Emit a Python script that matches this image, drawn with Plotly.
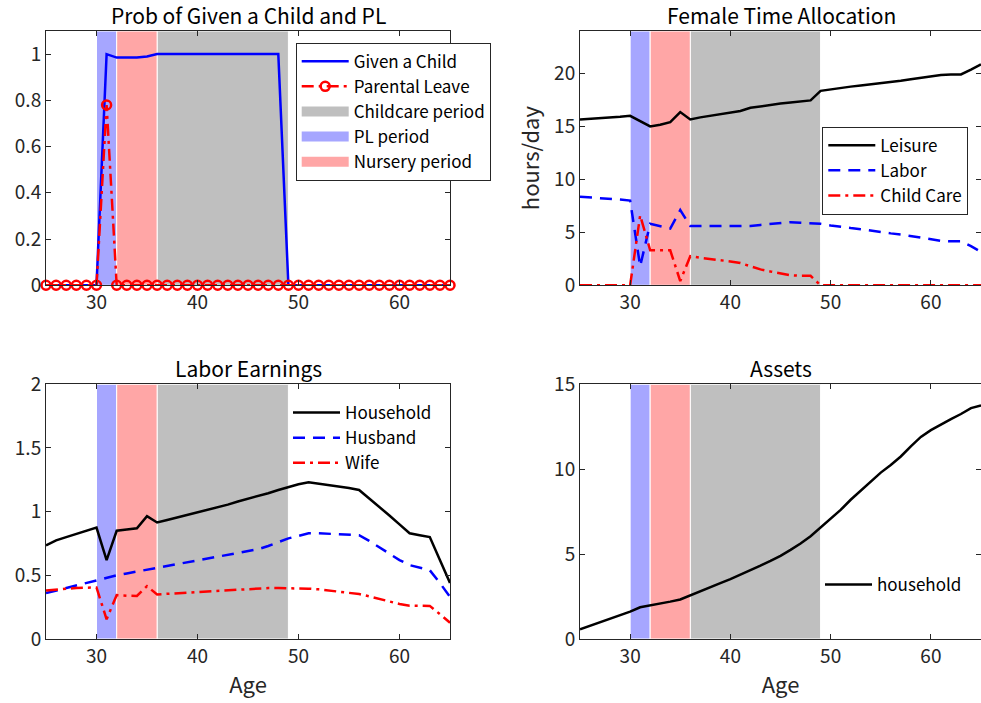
import plotly.graph_objects as go

ages = list(range(25, 66))

# Panel 1: probabilities
given_child = [0, 0, 0, 0, 0, 0,
               1.0, 0.985, 0.985, 0.985, 0.99,
               1.0, 1.0, 1.0, 1.0, 1.0, 1.0, 1.0, 1.0, 1.0, 1.0, 1.0, 1.0, 1.0,
               0, 0, 0, 0, 0, 0, 0, 0, 0, 0, 0, 0, 0, 0, 0, 0, 0]
parental_leave = [0, 0, 0, 0, 0, 0,
                  0.78,
                  0, 0, 0, 0, 0, 0, 0, 0, 0, 0, 0, 0, 0, 0, 0, 0, 0,
                  0, 0, 0, 0, 0, 0, 0, 0, 0, 0, 0, 0, 0, 0, 0, 0, 0]

# Panel 2: female time allocation (hours/day)
leisure = [15.65, 15.7, 15.75, 15.8, 15.9, 16.0, 15.5, 15.0, 15.15, 15.4,
           16.35, 15.65, 15.85, 16.0, 16.15, 16.3, 16.45, 16.75, 16.9, 17.05,
           17.15, 17.25, 17.35, 17.45, 18.35, 18.5, 18.6, 18.75, 18.85, 18.95,
           19.05, 19.15, 19.3, 19.45, 19.6, 19.75, 19.85, 19.9, 19.9, 20.35, 20.85]
labor = [8.35, 8.3, 8.25, 8.2, 8.1, 8.0, 1.8, 5.8, 5.55, 5.35,
         7.1, 5.6, 5.6, 5.6, 5.6, 5.55, 5.55, 5.6, 5.7, 5.8,
         5.9, 5.95, 5.9, 5.85, 5.8, 5.65, 5.5, 5.4, 5.3, 5.15,
         5.05, 4.9, 4.8, 4.65, 4.5, 4.35, 4.2, 4.15, 4.15, 3.7, 3.15]
child_care = [0, 0, 0, 0, 0, 0, 6.6, 3.3, 3.3, 3.3,
              0.4, 2.75, 2.6, 2.5, 2.4, 2.25, 2.1, 1.8, 1.5, 1.3,
              1.1, 0.95, 0.9, 0.9, 0, 0, 0, 0, 0, 0,
              0, 0, 0, 0, 0, 0, 0, 0, 0, 0, 0]

# Panel 3: labor earnings
household_earn = [0.735, 0.775, 0.80, 0.825, 0.85, 0.875, 0.62, 0.85, 0.86, 0.87,
                  0.965, 0.915, 0.935, 0.955, 0.975, 0.995, 1.01, 1.03, 1.055, 1.08,
                  1.10, 1.12, 1.145, 1.17, 1.195, 1.215, 1.23, 1.22, 1.205, 1.195,
                  1.185, 1.17, 1.105, 1.04, 0.97, 0.9, 0.83, 0.815, 0.8, 0.62, 0.44]
husband_earn = [0.36, 0.38, 0.40, 0.42, 0.44, 0.465, 0.485, 0.5, 0.515, 0.53,
                0.545, 0.56, 0.575, 0.59, 0.60, 0.615, 0.63, 0.645, 0.66, 0.675,
                0.69, 0.705, 0.73, 0.76, 0.79, 0.81, 0.83, 0.83, 0.825, 0.82,
                0.82, 0.815, 0.77, 0.72, 0.67, 0.62, 0.58, 0.56, 0.54, 0.44, 0.33]
wife_earn = [0.38, 0.39, 0.395, 0.40, 0.40, 0.405, 0.155, 0.345, 0.34, 0.338,
             0.415, 0.35, 0.355, 0.36, 0.365, 0.37, 0.375, 0.38, 0.385, 0.39,
             0.395, 0.40, 0.40, 0.40, 0.40, 0.40, 0.395, 0.39, 0.38, 0.37,
             0.36, 0.353, 0.335, 0.315, 0.295, 0.275, 0.262, 0.26, 0.26, 0.195, 0.128]

# Panel 4: assets
assets = [0.57, 0.78, 0.99, 1.19, 1.40, 1.61, 1.87, 1.97, 2.08, 2.20,
          2.33, 2.58, 2.81, 3.05, 3.29, 3.53, 3.78, 4.05, 4.32, 4.60,
          4.90, 5.25, 5.62, 6.05, 6.55, 7.10, 7.60, 8.20, 8.75, 9.27,
          9.80, 10.25, 10.75, 11.35, 11.90, 12.30, 12.65, 12.95, 13.25, 13.60, 13.76]

# Shaded periods
pl_period = [30, 32]
nursery_period = [32, 36]
childcare_period = [36, 49]

x_ticks = [30, 40, 50, 60]
y_ranges = {1: [0, 1.1], 2: [0, 24], 3: [0, 2], 4: [0, 15]}
y_ticks = {1: [0, 0.2, 0.4, 0.6, 0.8, 1],
           2: [0, 5, 10, 15, 20],
           3: [0, 0.5, 1, 1.5, 2],
           4: [0, 5, 10, 15]}
titles = {1: "Prob of Given a Child and PL", 2: "Female Time Allocation",
          3: "Labor Earnings", 4: "Assets"}

FONT = "Noto Sans CJK JP, Noto Sans, sans-serif"
AX = "#262626"
W, H = 981, 703

xdom = {1: [46 / W, 450 / W], 2: [580 / W, 1.0], 3: [46 / W, 450 / W], 4: [580 / W, 1.0]}
ydom = {1: [1 - 285.3 / H, 1 - 31 / H], 2: [1 - 285.3 / H, 1 - 31 / H],
        3: [1 - 639 / H, 1 - 384.3 / H], 4: [1 - 639 / H, 1 - 384.3 / H]}
title_x = {1: 248 / W, 2: 781 / W, 3: 248 / W, 4: 781 / W}

BLUE_BAND = "#A6A6FF"
RED_BAND = "#FFA6A6"
GRAY_BAND = "#BFBFBF"

fig = go.Figure()

bands = [("Childcare period", childcare_period, GRAY_BAND, 3),
         ("PL period", pl_period, BLUE_BAND, 4),
         ("Nursery period", nursery_period, RED_BAND, 5)]

for k in range(1, 5):
    xa = "x" if k == 1 else f"x{k}"
    ya = "y" if k == 1 else f"y{k}"
    top = y_ranges[k][1]
    for name, (a, b), col, rank in bands:
        fig.add_trace(go.Scatter(
            x=[a, b, b, a, a], y=[0, 0, top, top, 0],
            fill="toself", fillcolor=col, mode="lines",
            line=dict(color="white", width=1),
            name=name, showlegend=False, hoverinfo="skip", xaxis=xa, yaxis=ya))

# legend entries for the shaded periods (patch-like swatches)
for name, _, col, rank in bands:
    fig.add_trace(go.Scatter(x=[None], y=[None], mode="lines", name=name,
                             line=dict(color=col, width=10), legendrank=rank,
                             legend="legend", xaxis="x", yaxis="y"))

DASH = "12px,8px"
DASHDOT = "12px,5px,3px,5px"

# Panel 1 lines
fig.add_trace(go.Scatter(x=ages, y=given_child, mode="lines", name="Given a Child",
                         line=dict(color="#0000FF", width=2.5), legendrank=1,
                         legend="legend", xaxis="x", yaxis="y"))
fig.add_trace(go.Scatter(x=ages, y=parental_leave, mode="lines+markers", name="Parental Leave",
                         line=dict(color="#FF0000", width=2.5, dash=DASHDOT),
                         marker=dict(symbol="circle-open", size=9, color="#FF0000",
                                     line=dict(width=2.5, color="#FF0000")),
                         cliponaxis=False, legendrank=2, legend="legend",
                         xaxis="x", yaxis="y"))

# Panel 2 lines
fig.add_trace(go.Scatter(x=ages, y=leisure, mode="lines", name="Leisure",
                         line=dict(color="#000000", width=2.5), legend="legend2",
                         xaxis="x2", yaxis="y2"))
fig.add_trace(go.Scatter(x=ages, y=labor, mode="lines", name="Labor",
                         line=dict(color="#0000FF", width=2.5, dash=DASH), legend="legend2",
                         xaxis="x2", yaxis="y2"))
fig.add_trace(go.Scatter(x=ages, y=child_care, mode="lines", name="Child Care",
                         line=dict(color="#FF0000", width=2.5, dash=DASHDOT), legend="legend2",
                         xaxis="x2", yaxis="y2"))

# Panel 3 lines
fig.add_trace(go.Scatter(x=ages, y=household_earn, mode="lines", name="Household",
                         line=dict(color="#000000", width=2.5), legend="legend3",
                         xaxis="x3", yaxis="y3"))
fig.add_trace(go.Scatter(x=ages, y=husband_earn, mode="lines", name="Husband",
                         line=dict(color="#0000FF", width=2.5, dash=DASH), legend="legend3",
                         xaxis="x3", yaxis="y3"))
fig.add_trace(go.Scatter(x=ages, y=wife_earn, mode="lines", name="Wife",
                         line=dict(color="#FF0000", width=2.5, dash=DASHDOT), legend="legend3",
                         xaxis="x3", yaxis="y3"))

# Panel 4 line
fig.add_trace(go.Scatter(x=ages, y=assets, mode="lines", name="household",
                         line=dict(color="#000000", width=2.5), legend="legend4",
                         xaxis="x4", yaxis="y4"))

layout = dict(
    width=W, height=H, margin=dict(l=0, r=0, t=0, b=0, autoexpand=False),
    paper_bgcolor="white", plot_bgcolor="white",
    font=dict(family=FONT, size=19, color=AX),
    hovermode=False,
)

for k in range(1, 5):
    sx = "" if k == 1 else str(k)
    layout[f"xaxis{sx}"] = dict(
        domain=xdom[k], range=[25, 65], tickvals=x_ticks, ticks="inside", ticklen=5,
        tickcolor=AX, showline=True, linecolor=AX, linewidth=1, mirror="ticks",
        showgrid=False, zeroline=False, anchor="y" + sx, automargin=False,
        tickfont=dict(size=19, color=AX, family=FONT),
        title=dict(text="Age" if k in (3, 4) else "", standoff=10,
                   font=dict(size=22, color=AX, family=FONT)),
    )
    layout[f"yaxis{sx}"] = dict(
        domain=ydom[k], range=y_ranges[k], tickvals=y_ticks[k], ticks="inside", ticklen=5,
        tickcolor=AX, showline=True, linecolor=AX, linewidth=1, mirror="ticks",
        showgrid=False, zeroline=False, anchor="x" + sx, automargin=False,
        tickfont=dict(size=19, color=AX, family=FONT),
        title=dict(text="hours/day" if k == 2 else "", standoff=8,
                   font=dict(size=22, color=AX, family=FONT)),
    )

leg_common = dict(font=dict(size=17, color="#000000", family=FONT), itemwidth=47,
                  xanchor="left", yanchor="top", bgcolor="white", tracegroupgap=0)
layout["legend"] = dict(x=295.7 / W, y=1 - 42.7 / H, bordercolor=AX, borderwidth=1,
                        traceorder="normal", **leg_common)
layout["legend2"] = dict(x=822.3 / W, y=1 - 126.7 / H, bordercolor=AX, borderwidth=1,
                         **leg_common)
layout["legend3"] = dict(x=288 / W, y=1 - 395 / H, borderwidth=0,
                         **{**leg_common, "bgcolor": "rgba(0,0,0,0)"})
layout["legend4"] = dict(x=820 / W, y=1 - 567 / H, borderwidth=0,
                         **{**leg_common, "bgcolor": "rgba(0,0,0,0)"})

annotations = []
for k in range(1, 5):
    annotations.append(dict(
        text=titles[k], x=title_x[k],
        y=ydom[k][1], xref="paper", yref="paper", xanchor="center", yanchor="middle",
        yshift=16, showarrow=False, font=dict(size=21, color="#000000", family=FONT)))
layout["annotations"] = annotations

fig.update_layout(**layout)
fig.write_html("out.html", post_script="document.body.style.margin='0';",
               config={"displayModeBar": False})
